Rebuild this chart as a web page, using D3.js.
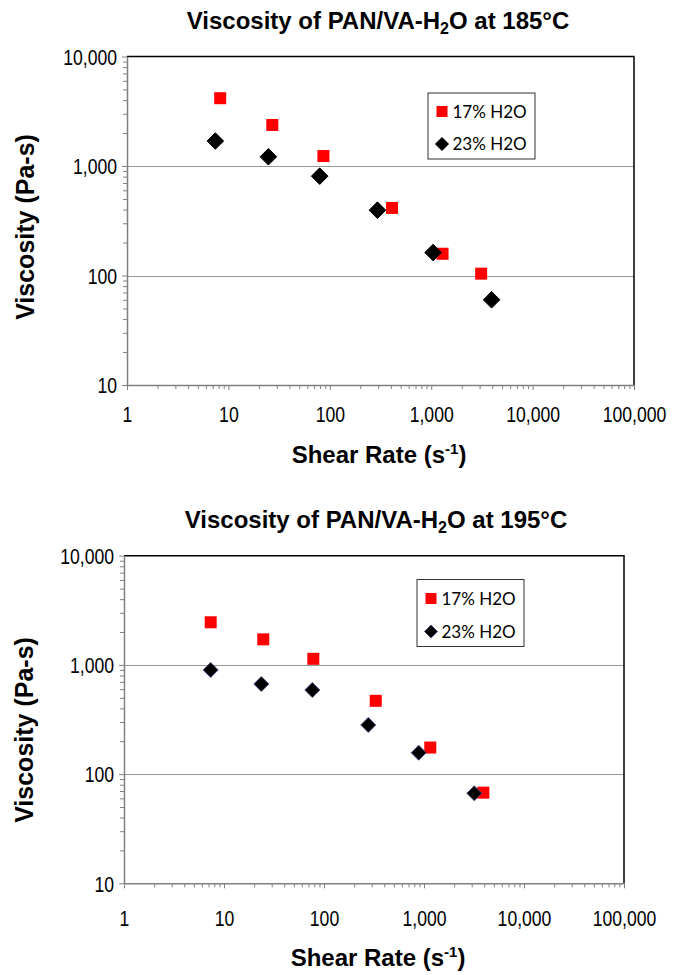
<!DOCTYPE html>
<html>
<head>
<meta charset="utf-8">
<script src="https://cdn.jsdelivr.net/npm/d3@7"></script>
<style>
  body { margin: 0; background: #fff; }
  svg { display: block; }
  .tick-lbl { font-family: "Liberation Sans", Arial, sans-serif; font-size: 22px; fill: #000; }
  .bold { font-family: "Liberation Sans", Arial, sans-serif; font-weight: bold; fill: #000; }
  .legend-text { font-family: Lato, "Open Sans", sans-serif; font-size: 17px; fill: #000; }
</style>
</head>
<body>
<svg id="chart" width="676" height="975"></svg>
<script>
// Axis ticks
const xTicks = [1, 10, 100, 1000, 10000, 100000];
const yTicks = [10, 100, 1000, 10000];
const seriesNames = ['17% H2O', '23% H2O'];

// 185°C data
const shear185_17 = [8.3, 27.1, 86.5, 411, 1294, 3110];
const visc185_17 = [4160, 2370, 1233, 414, 158, 104];
const shear185_23 = [7.43, 24.8, 79.5, 295, 1044, 3940];
const visc185_23 = [1690, 1214, 808, 395, 162, 60];

// 195°C data
const shear195_17 = [7.36, 24.7, 78.2, 329, 1156, 3920];
const visc195_17 = [2455, 1714, 1137, 469, 175, 67.6];
const shear195_23 = [7.36, 23.6, 76.4, 277, 885, 3185];
const visc195_23 = [899, 668, 589, 282, 157, 66.7];

const svg = d3.select('#chart');
const fmt = d3.format(',');

// minor ticks 2..9 for each decade
function minorTicks(lo, hi) {
    const out = [];
    for (let d = lo; d < hi; d *= 10) {
        for (let k = 2; k <= 9; k++) out.push(d * k);
    }
    return out;
}

function drawChart(cfg) {
    const g = svg.append('g');
    const x = d3.scaleLog().domain([1, 100000]).range([cfg.left, cfg.right]);
    const y = d3.scaleLog().domain([10, 10000]).range([cfg.bottom, cfg.top]);

    // gridlines
    g.selectAll('.grid')
        .data([100, 1000])
        .enter()
        .append('line')
        .attr('x1', cfg.left).attr('x2', cfg.right)
        .attr('y1', d => Math.round(y(d)) + 0.5).attr('y2', d => Math.round(y(d)) + 0.5)
        .attr('stroke', '#999').attr('stroke-width', 1);

    // top + right frame
    g.append('path')
        .attr('d', `M${cfg.left},${cfg.top}H${cfg.right}V${cfg.bottom}`)
        .attr('fill', 'none').attr('stroke', '#000').attr('stroke-width', 1.5);

    // y axis
    const yAxis = g.append('g')
        .attr('transform', `translate(${cfg.left},0)`)
        .call(d3.axisLeft(y).tickValues(yTicks).tickFormat(fmt).tickSize(5).tickSizeOuter(0));
    g.append('g')
        .attr('transform', `translate(${cfg.left},0)`)
        .call(d3.axisLeft(y).tickValues(minorTicks(10, 10000)).tickFormat('').tickSize(4).tickSizeOuter(0))
        .select('.domain').remove();

    // x axis
    const xAxis = g.append('g')
        .attr('transform', `translate(0,${cfg.bottom})`)
        .call(d3.axisBottom(x).tickValues(xTicks).tickFormat(fmt).tickSize(5).tickSizeOuter(0));
    g.append('g')
        .attr('transform', `translate(0,${cfg.bottom})`)
        .call(d3.axisBottom(x).tickValues(minorTicks(1, 100000)).tickFormat('').tickSize(4).tickSizeOuter(0))
        .select('.domain').remove();

    g.selectAll('.domain').attr('stroke', '#808080').attr('stroke-width', 1.5);
    g.selectAll('.tick line').attr('stroke', '#808080');

    yAxis.selectAll('text')
        .attr('class', 'tick-lbl')
        .attr('x', null).attr('dy', '0.35em')
        .attr('transform', `translate(${cfg.yLblX},0) scale(0.8,1)`);
    xAxis.selectAll('text')
        .attr('class', 'tick-lbl')
        .attr('y', null).attr('dy', null)
        .attr('transform', `translate(0,${cfg.xLblY}) scale(0.8,1)`);

    // title
    const title = g.append('text')
        .attr('class', 'bold')
        .attr('x', cfg.titleX).attr('y', cfg.titleY)
        .attr('text-anchor', 'middle')
        .style('font-size', '24px');
    title.append('tspan').text('Viscosity of PAN/VA-H');
    title.append('tspan').attr('dy', 5).style('font-size', '16px').text('2');
    title.append('tspan').attr('dy', -5).text(`O at ${cfg.temp}°C`);

    // x axis title
    const xt = g.append('text')
        .attr('class', 'bold')
        .attr('x', cfg.xTitleX).attr('y', cfg.xTitleY)
        .attr('text-anchor', 'middle')
        .style('font-size', '24px');
    xt.append('tspan').text('Shear Rate (s');
    xt.append('tspan').attr('dy', -9).style('font-size', '15px').text('-1');
    xt.append('tspan').attr('dy', 9).text(')');

    // y axis title
    g.append('text')
        .attr('class', 'bold')
        .attr('transform', `translate(${cfg.yTitleX},${cfg.yTitleY}) rotate(-90)`)
        .attr('text-anchor', 'middle')
        .style('font-size', '25px')
        .text('Viscosity (Pa-s)');

    // red squares
    const sq = cfg.sqSize;
    g.selectAll('.sq')
        .data(cfg.shear17.map((s, i) => ({ s, v: cfg.visc17[i] })))
        .enter()
        .append('rect')
        .attr('x', d => x(d.s) - sq / 2)
        .attr('y', d => y(d.v) - sq / 2)
        .attr('width', sq).attr('height', sq)
        .attr('fill', '#ff0000');

    // black diamonds
    const dm = cfg.dmSize;
    g.selectAll('.dm')
        .data(cfg.shear23.map((s, i) => ({ s, v: cfg.visc23[i] })))
        .enter()
        .append('path')
        .attr('d', d => {
            const cx = x(d.s), cy = y(d.v);
            return `M${cx},${cy - dm}L${cx + dm},${cy}L${cx},${cy + dm}L${cx - dm},${cy}Z`;
        })
        .attr('fill', '#000')
        .attr('stroke', cfg.dmStroke)
        .attr('stroke-width', 1);

    // legend
    const lg = g.append('g');
    lg.append('rect')
        .attr('x', cfg.legX + 0.5).attr('y', cfg.legY + 0.5)
        .attr('width', cfg.legW).attr('height', cfg.legH)
        .attr('fill', '#fff').attr('stroke', '#333').attr('stroke-width', 1);
    lg.append('rect')
        .attr('x', cfg.legX + 9).attr('y', cfg.legY + cfg.legRow1 - 5.5)
        .attr('width', 11).attr('height', 11)
        .attr('fill', '#ff0000');
    const ly2 = cfg.legY + cfg.legRow2;
    const lx2 = cfg.legX + 14.5;
    lg.append('path')
        .attr('d', `M${lx2},${ly2 - 6.5}L${lx2 + 6.5},${ly2}L${lx2},${ly2 + 6.5}L${lx2 - 6.5},${ly2}Z`)
        .attr('fill', '#000').attr('stroke', cfg.dmStroke).attr('stroke-width', 1);
    lg.selectAll('.lt')
        .data(seriesNames)
        .enter()
        .append('text')
        .attr('class', 'legend-text')
        .attr('x', cfg.legX + 25)
        .attr('y', (d, i) => cfg.legY + (i === 0 ? cfg.legRow1 : cfg.legRow2))
        .attr('dy', '0.36em')
        .text(d => d);
}

drawChart({
    temp: 185,
    left: 127, right: 634, top: 56.5, bottom: 385,
    yLblX: -10, xLblY: 37,
    titleX: 378, titleY: 29,
    xTitleX: 379, xTitleY: 463,
    yTitleX: 34, yTitleY: 227,
    shear17: shear185_17, visc17: visc185_17,
    shear23: shear185_23, visc23: visc185_23,
    sqSize: 12, dmSize: 8.3, dmStroke: '#000',
    legX: 427.5, legY: 92.5, legW: 107, legH: 66, legRow1: 19, legRow2: 51.5
});

drawChart({
    temp: 195,
    left: 124, right: 624, top: 555.7, bottom: 883.3,
    yLblX: -10, xLblY: 43,
    titleX: 376, titleY: 528,
    xTitleX: 378, xTitleY: 966,
    yTitleX: 33, yTitleY: 730,
    shear17: shear195_17, visc17: visc195_17,
    shear23: shear195_23, visc23: visc195_23,
    sqSize: 12, dmSize: 7.5, dmStroke: '#4b4b7d',
    legX: 416.5, legY: 579, legW: 107, legH: 67, legRow1: 19.5, legRow2: 52.5
});
</script>
</body>
</html>
